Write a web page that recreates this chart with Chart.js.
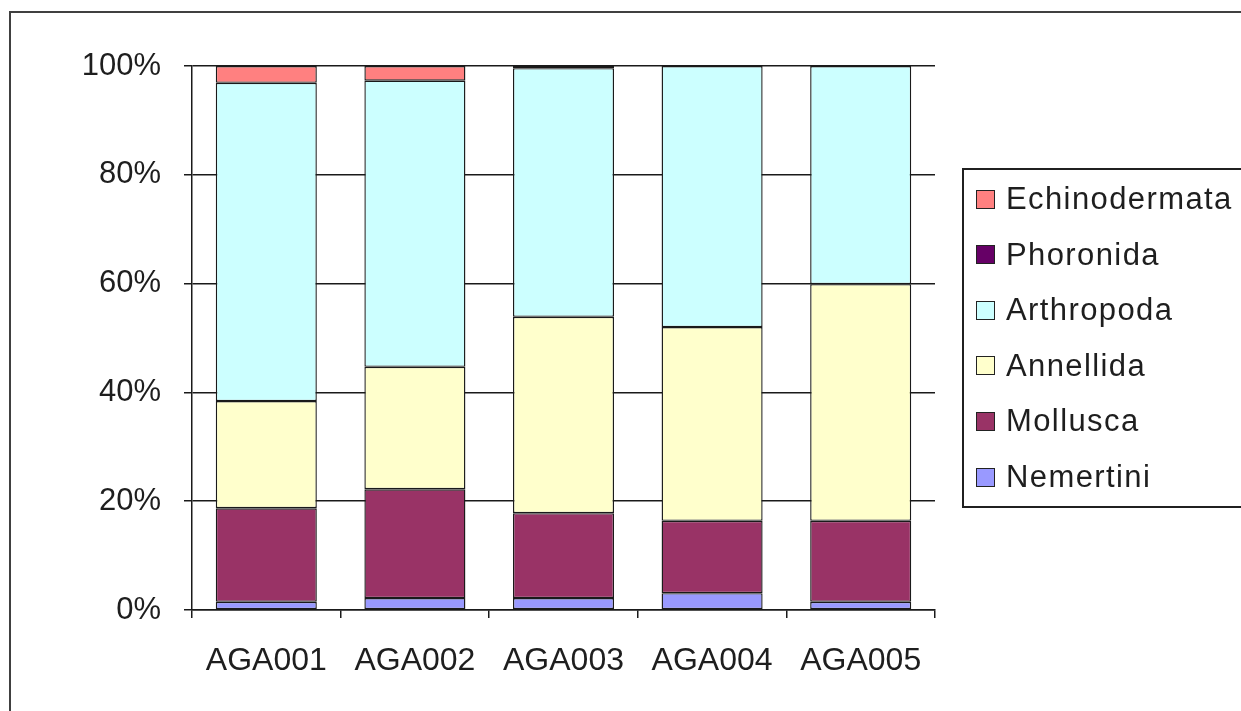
<!DOCTYPE html>
<html>
<head>
<meta charset="utf-8">
<script src="https://cdn.jsdelivr.net/npm/chart.js@4"></script>
<style>
  body { margin: 0; background: #fff; font-family: "Liberation Sans", Arial, sans-serif; }
  #wrap { position: relative; width: 1241px; height: 711px; overflow: hidden; }
  #frame { position: absolute; left: 9px; top: 11px; width: 1400px; height: 900px; border: 2px solid #404040; }
  #chart { position: absolute; left: 0; top: 0; }
  #legend { position: absolute; left: 962px; top: 168px; width: 400px; height: 336px; border: 2px solid #202020; }
  .item { position: absolute; left: 12px; height: 40px; display: flex; align-items: center; font-size: 31px; letter-spacing: 1.4px; color: #1e1e1e; }
  .swatch { width: 17px; height: 17px; border: 1.5px solid #222; margin-right: 11px; }
</style>
</head>
<body>
<div id="wrap">
  <div id="frame"></div>
  <canvas id="chart" width="1241" height="711"></canvas>
  <div id="legend"></div>
</div>
<script>
// Data
const sites = ["AGA001", "AGA002", "AGA003", "AGA004", "AGA005"];
const nemertini     = [1.5, 2.2, 2.2, 3.1, 1.5];
const mollusca      = [17.2, 20.0, 15.6, 13.3, 14.9];
const annellida     = [19.7, 22.5, 36.1, 35.6, 43.5];
const arthropoda    = [58.5, 52.6, 45.7, 48.0, 40.1];
const phoronida     = [0, 0, 0.4, 0, 0];
const echinodermata = [3.1, 2.7, 0, 0, 0];
const yTicks = ["0%", "20%", "40%", "60%", "80%", "100%"];

// bottom to top
const series = [
  { label: "Nemertini", data: nemertini, color: "#9999FF" },
  { label: "Mollusca", data: mollusca, color: "#993366" },
  { label: "Annellida", data: annellida, color: "#FFFFCC" },
  { label: "Arthropoda", data: arthropoda, color: "#CCFFFF" },
  { label: "Phoronida", data: phoronida, color: "#660066" },
  { label: "Echinodermata", data: echinodermata, color: "#FF8080" }
];

// Legend (top of stack first)
const legend = document.getElementById("legend");
series.slice().reverse().forEach((s, i) => {
  const el = document.createElement("div");
  el.className = "item";
  el.style.top = (9 + i * 55.6) + "px";
  el.innerHTML = `<span class="swatch" style="background:${s.color}"></span>${s.label}`;
  legend.appendChild(el);
});

const ctx = document.getElementById("chart").getContext("2d");
new Chart(ctx, {
  type: "bar",
  data: {
    labels: sites,
    datasets: series.map(s => ({
      label: s.label,
      data: s.data,
      backgroundColor: s.color,
      borderColor: "#1a1a1a",
      borderWidth: 1.4,
      borderSkipped: false,
      barPercentage: 0.68,
      categoryPercentage: 1
    }))
  },
  options: {
    responsive: false,
    animation: false,
    layout: { padding: { left: 0, top: 66, right: 306, bottom: 0 } },
    plugins: { legend: { display: false }, tooltip: { enabled: false } },
    scales: {
      x: {
        stacked: true,
        afterFit: (a) => { a.height = 101; },
        grid: { offset: true, drawOnChartArea: false, drawTicks: true, tickLength: 8, color: "#1a1a1a", lineWidth: 1.5 },
        border: { color: "#1a1a1a", width: 1.5 },
        ticks: { color: "#1e1e1e", font: { family: "Liberation Sans", size: 32 }, padding: 24, maxRotation: 0 }
      },
      y: {
        stacked: true,
        min: 0,
        max: 100,
        afterFit: (a) => { a.width = 192; },
        afterBuildTicks: (a) => { a.ticks = yTicks.map((t, i) => ({ value: i * 20 })); },
        grid: { color: "#1a1a1a", lineWidth: 1.5, tickLength: 8 },
        border: { color: "#1a1a1a", width: 1.5 },
        ticks: {
          color: "#1e1e1e",
          font: { family: "Liberation Sans", size: 31 },
          padding: 23,
          callback: (v) => yTicks[Math.round(v / 20)]
        }
      }
    }
  }
});
</script>
</body>
</html>
